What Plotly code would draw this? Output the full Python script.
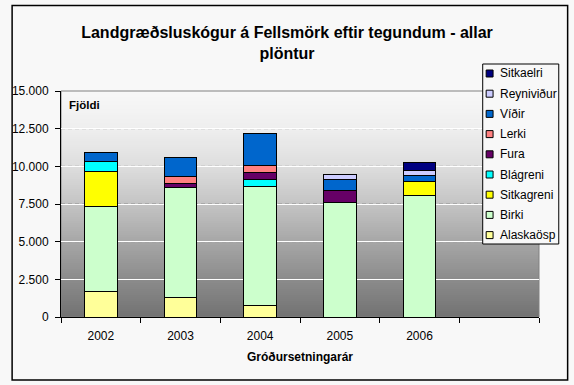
import numpy as np
import plotly.graph_objects as go

# ---------------- data ----------------
years = ["2002", "2003", "2004", "2005", "2006"]
series_names = ["Alaskaösp", "Birki", "Sitkagreni", "Blágreni", "Fura",
                "Lerki", "Víðir", "Reyniviður", "Sitkaelri"]
alaskaosp = [1700, 1300, 780, None, None]
birki = [5650, 7300, 7900, 7610, 8080]
sitkagreni = [2320, None, None, None, 930]
blagreni = [660, None, 470, None, None]
fura = [None, 270, 460, 800, None]
lerki = [None, 440, 440, None, None]
vidir = [600, 1290, 2150, 710, 400]
reynividur = [None, None, None, 350, 310]
sitkaelri = [None, None, None, None, 550]
series_values = [alaskaosp, birki, sitkagreni, blagreni, fura,
                 lerki, vidir, reynividur, sitkaelri]
colors = ["#FFFF99", "#CCFFCC", "#FFFF00", "#00FFFF", "#660066",
          "#FF8080", "#0066CC", "#CCCCFF", "#000080"]
y_ticks = list(range(0, 15001, 2500))

title = "Landgræðsluskógur á Fellsmörk eftir tegundum - allar<br>plöntur"
x_title = "Gróðursetningarár"
y_title = "Fjöldi"

# ---------------- layout geometry ----------------
W, H = 574, 385
ML, MR, MT, MB = 55, 35, 91, 68
PW, PH = W - ML - MR, H - MT - MB
FONT = "Liberation Sans, Arial, sans-serif"


def pxx(px):
    return (px - ML) / PW


def pxy(py):
    return (H - MB - py) / PH


fig = go.Figure()
for name, vals, col in zip(series_names, series_values, colors):
    fig.add_trace(go.Bar(
        x=years, y=vals, name=name, showlegend=False,
        marker=dict(color=col, line=dict(color="black", width=1)),
    ))

shapes = []
# gradient background of plot area
grad_t = [0, 0.17, 0.33, 0.5, 0.67, 0.83, 1.0]
grad_v = [248, 238, 222, 196, 166, 140, 114]
N = 113
for k in range(N):
    t = (k + 0.5) / N
    g = int(round(np.interp(t, grad_t, grad_v)))
    shapes.append(dict(type="rect", xref="paper", yref="paper", layer="below",
                       x0=0, x1=1, y0=1 - (k + 1) / N - 0.001, y1=1 - k / N,
                       fillcolor=f"rgb({g},{g},{g})", line=dict(width=0)))
# plot frame (gray)
shapes.append(dict(type="rect", xref="paper", yref="paper", layer="below",
                   x0=0, x1=1, y0=0, y1=1, line=dict(color="#808080", width=1)))
# gray dashes over the white grid lines
for v in y_ticks[1:-1]:
    shapes.append(dict(type="line", xref="paper", yref="y", layer="between",
                       x0=0, x1=1, y0=v, y1=v,
                       line=dict(color="#8f8f8f", width=1, dash="4px,3px")))
# outer chart border
shapes.append(dict(type="rect", xref="paper", yref="paper", layer="above",
                   x0=pxx(5.5), x1=pxx(568), y0=pxy(5.5), y1=pxy(380),
                   line=dict(color="black", width=1.5)))

annotations = []
# custom legend
lx0, lx1, ly0, ly1 = 482, 559, 64, 244
shapes.append(dict(type="rect", xref="paper", yref="paper", layer="above",
                   x0=pxx(lx0), x1=pxx(lx1), y0=pxy(ly1), y1=pxy(ly0),
                   fillcolor="#F8F8F8", line=dict(color="black", width=1)))
for i, (name, col) in enumerate(zip(series_names[::-1], colors[::-1])):
    cy = 73.5 + i * 20.2
    shapes.append(dict(type="rect", xref="paper", yref="paper", layer="above",
                       x0=pxx(485.5), x1=pxx(492.5), y0=pxy(cy + 3.5), y1=pxy(cy - 3.5),
                       fillcolor=col, line=dict(color="black", width=1)))
    annotations.append(dict(xref="paper", yref="paper", x=pxx(497), y=pxy(cy),
                            xanchor="left", yanchor="middle", showarrow=False,
                            text=name, font=dict(family=FONT, size=12, color="black")))

# y-axis title inside plot
annotations.append(dict(xref="paper", yref="paper", x=pxx(61), y=pxy(105),
                        xanchor="left", yanchor="middle", showarrow=False,
                        text=y_title, font=dict(family=FONT, size=11.5, color="black",
                                                weight="bold")))

fig.update_layout(
    width=W, height=H,
    margin=dict(l=ML, r=MR, t=MT, b=MB, pad=0),
    paper_bgcolor="#F8F8F8", plot_bgcolor="rgba(0,0,0,0)",
    barmode="stack", bargap=0.59,
    separators=",.",
    font=dict(family=FONT, size=12, color="black"),
    title=dict(text=title, x=0.5, xanchor="center", xref="container",
               y=1 - 38 / H, yanchor="middle", yref="container",
               font=dict(family=FONT, size=16, color="black", weight="bold")),
    shapes=shapes, annotations=annotations,
    showlegend=False,
)
fig.update_xaxes(
    type="category", categoryorder="array", categoryarray=years + [" "],
    range=[-0.5, 5.5], tickson="boundaries",
    ticks="outside", ticklen=5, tickcolor="black", tickwidth=1,
    showline=True, linecolor="black", linewidth=1, showgrid=False,
    tickfont=dict(family=FONT, size=12, color="black"),
    ticklabelstandoff=8,
    title=dict(text=x_title, standoff=10,
               font=dict(family=FONT, size=12, color="black", weight="bold")),
)
fig.update_yaxes(
    range=[0, 15000], tickvals=y_ticks, tickformat=",d",
    ticks="outside", ticklen=5, tickcolor="black", tickwidth=1,
    showline=True, linecolor="black", linewidth=1,
    showgrid=True, gridcolor="white", gridwidth=1, zeroline=False,
    tickfont=dict(family=FONT, size=12, color="black"),
    ticklabelstandoff=4,
)

fig.write_html("out.html", config={"displayModeBar": False},
               post_script="document.body.style.margin='0px';")
